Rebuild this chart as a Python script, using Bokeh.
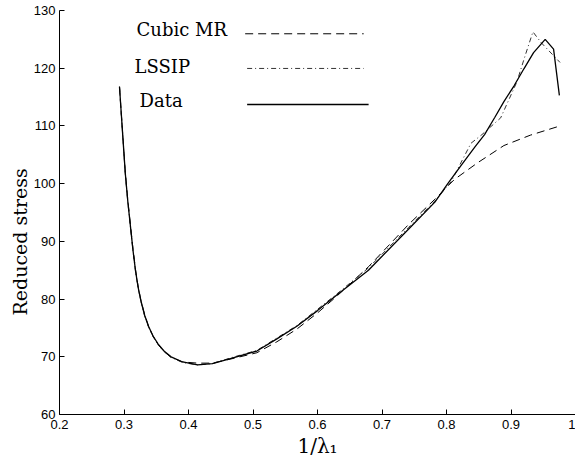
import math
from bokeh.plotting import figure
from bokeh.models import Range1d, Label, FixedTicker, Title
from bokeh.embed import file_html
from bokeh.resources import INLINE

# ---------------- data ----------------
data_x = [0.293, 0.297, 0.302, 0.306, 0.310, 0.314, 0.318, 0.322, 0.326, 0.332,
          0.338, 0.345, 0.353, 0.362, 0.373, 0.391, 0.414, 0.437, 0.465, 0.506,
          0.537, 0.568, 0.600, 0.629, 0.679, 0.741, 0.782, 0.802, 0.823, 0.845,
          0.859, 0.875, 0.889, 0.905, 0.920, 0.935, 0.953, 0.966, 0.975]
data_y = [116.8, 110.1, 101.8, 96.8, 92.6, 88.4, 84.8, 82.0, 79.8, 77.2,
          75.3, 73.6, 72.2, 71.0, 70.0, 69.1, 68.6, 68.8, 69.7, 71.0,
          73.1, 75.3, 78.0, 80.6, 85.0, 92.1, 96.8, 100.0, 103.2, 106.5,
          108.5, 111.5, 114.2, 117.0, 119.9, 122.7, 125.0, 123.3, 115.3]

cubic_x = [0.293, 0.297, 0.302, 0.306, 0.310, 0.314, 0.318, 0.322, 0.326, 0.332,
           0.338, 0.345, 0.353, 0.362, 0.373, 0.391, 0.414, 0.437, 0.465, 0.506,
           0.537, 0.568, 0.600, 0.629, 0.679, 0.741, 0.782, 0.812, 0.848, 0.889,
           0.930, 0.976]
cubic_y = [116.8, 110.2, 102.0, 97.0, 92.8, 88.6, 85.0, 82.1, 79.9, 77.3,
           75.3, 73.6, 72.1, 70.9, 69.9, 69.1, 68.9, 68.9, 69.6, 70.7,
           72.6, 74.8, 77.6, 80.4, 85.6, 92.9, 97.3, 100.7, 103.6, 106.6,
           108.4, 110.0]

lssip_x = [0.293, 0.297, 0.302, 0.306, 0.310, 0.314, 0.318, 0.322, 0.326, 0.332,
           0.338, 0.345, 0.353, 0.362, 0.373, 0.391, 0.414, 0.437, 0.465, 0.506,
           0.568, 0.629, 0.679, 0.741, 0.782, 0.807, 0.838, 0.855, 0.884, 0.909,
           0.922, 0.934, 0.947, 0.976]
lssip_y = [116.8, 110.0, 101.7, 96.7, 92.5, 88.3, 84.7, 81.9, 79.7, 77.1,
           75.2, 73.5, 72.1, 70.9, 69.9, 69.0, 68.6, 68.8, 69.8, 71.1,
           75.4, 80.8, 85.4, 92.4, 97.0, 100.3, 107.0, 108.5, 111.4, 117.6,
           122.2, 126.3, 124.4, 121.0]

x_ticks = [0.2, 0.3, 0.4, 0.5, 0.6, 0.7, 0.8, 0.9, 1.0]
y_ticks = [60, 70, 80, 90, 100, 110, 120, 130]

legend_labels = ["Cubic MR", "LSSIP", "Data"]

# ---------------- layout helpers (reference pixel -> data, for legend placement) ----------------
X0, X1, Y0, Y1 = 0.2, 1.0, 60, 130
REF_L, REF_W, REF_B, REF_H = 60.0, 522.5, 421.6, 411.3


def px2x(px):
    return X0 + (px - REF_L) / REF_W * (X1 - X0)


def py2y(py):
    return Y0 + (REF_B - py) / REF_H * (Y1 - Y0)


p = figure(width=575, height=460, output_backend="svg", toolbar_location=None,
           x_range=Range1d(X0, X1), y_range=Range1d(Y0, Y1),
           min_border_left=59, min_border_right=0, min_border_top=10,
           min_border_bottom=46, background_fill_color="white",
           border_fill_color="white")
p.outline_line_color = None
p.xgrid.visible = False
p.ygrid.visible = False

for ax in (p.xaxis[0], p.yaxis[0]):
    ax.axis_line_color = "black"
    ax.axis_line_width = 1
    ax.major_tick_in = 5
    ax.major_tick_out = 0
    ax.major_tick_line_color = "black"
    ax.minor_tick_line_color = None
    ax.major_label_text_font = "Liberation Sans"
    ax.major_label_text_font_size = "13px"
    ax.major_label_text_color = "black"

p.xaxis[0].ticker = FixedTicker(ticks=x_ticks)
p.yaxis[0].ticker = FixedTicker(ticks=y_ticks)
p.xaxis[0].major_label_overrides = {1: "1"}
p.xaxis[0].major_label_standoff = 5
p.yaxis[0].major_label_standoff = 4

p.xaxis[0].axis_label = "1/λ₁"
p.xaxis[0].axis_label_text_font = "DejaVu Serif"
p.xaxis[0].axis_label_text_font_size = "20px"
p.xaxis[0].axis_label_text_font_style = "normal"
p.xaxis[0].axis_label_text_color = "black"
p.xaxis[0].axis_label_standoff = 2

# y label as a side title (sits below the axis centre in the reference)
ytitle = Title(text="Reduced stress", align="left", offset=99, standoff=0,
               text_font="DejaVu Serif", text_font_size="19px",
               text_font_style="normal", text_color="black")
p.add_layout(ytitle, "left")

# curves
p.line(cubic_x, cubic_y, line_color="black", line_width=1, line_dash="8 5")
p.line(lssip_x, lssip_y, line_color="#333333", line_width=1, line_dash="5 3 1 3")
p.line(data_x, data_y, line_color="black", line_width=1.3)

# legend (labels left, line samples right)
leg_text_px = [(138, 30), (136, 67), (141, 102)]
leg_line_px = [(248, 368, 34), (250, 368, 69.3), (250, 373, 106)]
leg_styles = [dict(line_color="black", line_width=1, line_dash="8 5"),
              dict(line_color="#333333", line_width=1, line_dash="5 3 1 3"),
              dict(line_color="black", line_width=1.3)]
for lab, (tx, ty), (lx0, lx1, ly), st in zip(legend_labels, leg_text_px, leg_line_px, leg_styles):
    p.add_layout(Label(x=px2x(tx), y=py2y(ty), text=lab, text_align="left",
                       text_baseline="middle", text_font="DejaVu Serif",
                       text_font_size="18px", text_color="black"))
    p.line([px2x(lx0), px2x(lx1)], [py2y(ly), py2y(ly)], **st)

open("out.html", "w").write(file_html(p, INLINE))
